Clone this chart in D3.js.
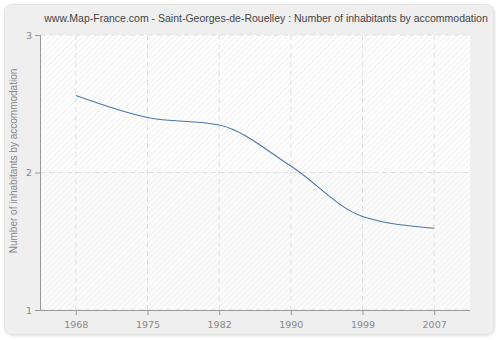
<!DOCTYPE html>
<html><head><meta charset="utf-8">
<script src="https://cdn.jsdelivr.net/npm/d3@7"></script>
<style>body{margin:0;background:#fff;}svg{display:block;}</style>
</head><body>
<svg id="c" width="500" height="340"></svg>
<script>
const years = ["1968","1975","1982","1990","1999","2007"];
const values = [2.56, 2.40, 2.345, 2.047, 1.68, 1.595];
const yTicks = [1, 2, 3];
const title = "www.Map-France.com - Saint-Georges-de-Rouelley : Number of inhabitants by accommodation";
const yLabel = "Number of inhabitants by accommodation";

const svg = d3.select("#c");
const W = 500, H = 340;
const m = {l: 40, r: 30, t: 35, b: 30};

const defs = svg.append("defs");
const f = defs.append("filter").attr("id","sh").attr("x","-5%").attr("y","-5%").attr("width","110%").attr("height","110%");
f.append("feDropShadow").attr("dx",1).attr("dy",1).attr("stdDeviation",1).attr("flood-color","#000").attr("flood-opacity",0.12);

function hatch(id, bg, line) {
  const p = defs.append("pattern").attr("id", id).attr("patternUnits","userSpaceOnUse")
    .attr("width", 4).attr("height", 4).attr("patternTransform","rotate(45)");
  p.append("rect").attr("width",4).attr("height",4).attr("fill",bg);
  p.append("line").attr("x1",0).attr("y1",0).attr("x2",0).attr("y2",4).attr("stroke",line).attr("stroke-width",1.2);
}
hatch("h1", "#ffffff", "#e6e6e6");
hatch("h2", "#fbfbfb", "#efefef");

svg.append("rect").attr("x",4.5).attr("y",4.5).attr("width",489).attr("height",330).attr("rx",7)
  .attr("fill","#efefef").attr("stroke","#e4e4e4").attr("filter","url(#sh)");

const x = d3.scalePoint().domain(years).range([m.l, W - m.r]).padding(0.5);
const y = d3.scaleLinear().domain([1, 3]).range([H - m.b, m.t]);

svg.append("rect").attr("x", m.l).attr("y", y(3)).attr("width", W - m.r - m.l).attr("height", y(2) - y(3)).attr("fill","url(#h1)");
svg.append("rect").attr("x", m.l).attr("y", y(2)).attr("width", W - m.r - m.l).attr("height", y(1) - y(2)).attr("fill","url(#h2)");

// grid
const g = svg.append("g");
years.forEach(d => g.append("line").attr("x1", x(d)).attr("x2", x(d)).attr("y1", y(3)).attr("y2", y(1))
  .attr("stroke","#e0e0e0").attr("stroke-dasharray","5,4"));
yTicks.forEach(v => g.append("line").attr("x1", m.l).attr("x2", W - m.r).attr("y1", y(v)).attr("y2", y(v))
  .attr("stroke","#e0e0e0").attr("stroke-dasharray","5,4"));

// axes
const font = "DejaVu Sans, Verdana, sans-serif";
const ya = svg.append("g").attr("transform",`translate(${m.l},0)`)
  .call(d3.axisLeft(y).tickValues(yTicks).tickFormat(d3.format("d")).tickSize(5).tickPadding(3));
const xa = svg.append("g").attr("transform",`translate(0,${H - m.b})`)
  .call(d3.axisBottom(x).tickSize(5).tickPadding(6));
[ya, xa].forEach(a => {
  a.select(".domain").attr("stroke","#999");
  a.selectAll(".tick line").attr("stroke","#999");
  a.selectAll(".tick text").attr("fill","#888").attr("font-size",9.5).attr("font-family",font);
});
xa.select(".domain").attr("d", `M${m.l - 5},0.5H${W - m.r}`);

// line
svg.append("path").datum(values)
  .attr("d", d3.line().x((d,i) => x(years[i])).y(d => y(d)).curve(d3.curveMonotoneX))
  .attr("fill","none").attr("stroke","#4a76a8").attr("stroke-width",1.1);

svg.append("text").attr("x", 266).attr("y", 22).attr("text-anchor","middle")
  .attr("font-family","Liberation Sans, Arial, sans-serif").attr("font-size",10.5).attr("fill","#444")
  .text(title);

svg.append("text").attr("transform",`translate(17,161) rotate(-90)`).attr("text-anchor","middle")
  .attr("font-family","Liberation Sans, Arial, sans-serif").attr("font-size",10).attr("fill","#888")
  .text(yLabel);
</script>
</body></html>
